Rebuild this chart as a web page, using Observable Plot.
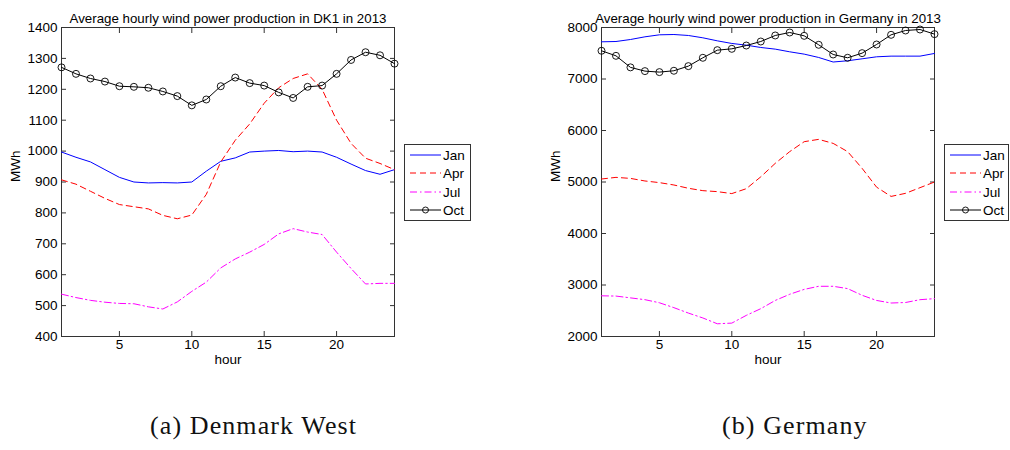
<!DOCTYPE html>
<html><head><meta charset="utf-8">
<script src="https://cdn.jsdelivr.net/npm/d3@7"></script>
<script src="https://cdn.jsdelivr.net/npm/@observablehq/plot@0.6"></script>
<style>
body{margin:0;background:#fff;}
#root{position:relative;width:1010px;height:450px;overflow:hidden;font-family:"Liberation Sans",Arial,sans-serif;}
.panel{position:absolute;top:0;}
.legend{position:absolute;}
.caption{position:absolute;top:411px;font-family:"Liberation Serif","Times New Roman",serif;font-size:26px;letter-spacing:1.1px;color:#111;white-space:nowrap;}
</style></head><body><div id="root"></div>
<script>
const hours = [1,2,3,4,5,6,7,8,9,10,11,12,13,14,15,16,17,18,19,20,21,22,23,24];
const months = ["Jan","Apr","Jul","Oct"];
const xTicks = [5,10,15,20];

// Denmark West (DK1), MWh
const dk1Jan = [997,980,965,940,915,900,897,898,897,900,935,967,978,997,1000,1002,998,1000,997,980,958,937,925,940];
const dk1Apr = [907,893,870,847,827,820,813,792,781,793,860,965,1035,1088,1155,1205,1235,1250,1200,1100,1025,977,960,940];
const dk1Jul = [537,526,517,511,507,506,496,489,512,546,576,622,651,673,698,732,749,738,730,673,620,570,572,572];
const dk1Oct = [1271,1250,1235,1225,1210,1208,1205,1193,1178,1148,1167,1210,1238,1220,1212,1190,1172,1208,1212,1250,1295,1320,1310,1283];
const dk1Ticks = [400,500,600,700,800,900,1000,1100,1200,1300,1400];

// Germany, MWh
const deJan = [7722,7728,7767,7819,7858,7864,7845,7800,7741,7690,7657,7612,7580,7528,7483,7418,7330,7354,7392,7431,7444,7444,7444,7496];
const deApr = [5058,5090,5070,5020,4988,4942,4878,4832,4813,4775,4870,5100,5362,5590,5783,5828,5750,5590,5265,4900,4720,4780,4890,5000];
const deJul = [2790,2785,2750,2715,2655,2560,2455,2360,2247,2260,2410,2540,2700,2820,2915,2975,2975,2930,2800,2700,2650,2660,2715,2735];
const deOct = [7548,7450,7226,7153,7134,7160,7250,7412,7560,7586,7650,7728,7845,7903,7838,7664,7476,7412,7502,7670,7858,7942,7961,7871];
const deTicks = [2000,3000,4000,5000,6000,7000,8000];

const styles = {
  Jan: {stroke:"#0000ff"},
  Apr: {stroke:"#ff0000", strokeDasharray:"6,4"},
  Jul: {stroke:"#ff00ff", strokeDasharray:"7,3,1.5,3"},
  Oct: {stroke:"#000000"}
};
const FONT = '"Liberation Sans",Arial,sans-serif';
const FS = 13.5;

function rowsOf(series){
  const rows = [];
  months.forEach((m,k)=>hours.forEach((h,i)=>rows.push({month:m, hour:h, value:series[k][i]})));
  return rows;
}

function chart(title, series, yTicks){
  const rows = rowsOf(series);
  const dom = [yTicks[0], yTicks[yTicks.length-1]];
  const fmt = d => String(d);
  const marks = [
    Plot.frame({stroke:"#333"}),
    Plot.axisX(xTicks, {anchor:"bottom", tickSize:0, tickPadding:3, label:null, tickFormat:fmt}),
    Plot.axisX(xTicks, {anchor:"bottom", tickSize:-5, tickFormat:()=>"", label:null, stroke:"#333"}),
    Plot.axisX(xTicks, {anchor:"top", tickSize:-5, tickFormat:()=>"", label:null, stroke:"#333"}),
    Plot.axisY(yTicks, {anchor:"left", tickSize:0, tickPadding:4, label:null, tickFormat:fmt}),
    Plot.axisY(yTicks, {anchor:"left", tickSize:-5, tickFormat:()=>"", label:null, stroke:"#333"}),
    Plot.axisY(yTicks, {anchor:"right", tickSize:-5, tickFormat:()=>"", label:null, stroke:"#333"}),
    Plot.text([title], {frameAnchor:"top", dy:-14, fontSize:13.3}),
    Plot.text(["hour"], {frameAnchor:"bottom", dy:27, fontSize:FS}),
    Plot.text(["MWh"], {frameAnchor:"left", dx:-46, rotate:-90, fontSize:FS})
  ];
  months.forEach(m=>{
    marks.push(Plot.line(rows.filter(d=>d.month===m), {x:"hour", y:"value", strokeWidth:1, ...styles[m]}));
  });
  marks.push(Plot.dot(rows.filter(d=>d.month==="Oct"), {x:"hour", y:"value", r:3.5, stroke:"#000", fill:"none", strokeWidth:0.9}));
  return Plot.plot({
    width:400, height:370,
    marginLeft:61, marginRight:6, marginTop:27, marginBottom:34,
    x:{domain:[1,24]},
    y:{domain:dom},
    style:{fontFamily:FONT, fontSize:FS+"px", color:"#000", background:"transparent", overflow:"visible"},
    marks
  });
}

function legend(left, top, w){
  const h = 77;
  const svg = d3.create("svg").attr("width", w+1).attr("height", h+1).attr("class","legend")
    .style("left", left+"px").style("top", top+"px").style("overflow","visible");
  svg.append("rect").attr("x",0.5).attr("y",0.5).attr("width",w).attr("height",h-1).attr("fill","#fff").attr("stroke","#333");
  const ys = [11,29,48,66];
  months.forEach((m,i)=>{
    const s = styles[m];
    const ln = svg.append("line").attr("x1",6).attr("x2",37).attr("y1",ys[i]).attr("y2",ys[i]).attr("stroke",s.stroke).attr("stroke-width",1);
    if (s.strokeDasharray) ln.attr("stroke-dasharray", s.strokeDasharray);
    if (m==="Oct") svg.append("circle").attr("cx",21.5).attr("cy",ys[i]).attr("r",3).attr("fill","none").attr("stroke","#000").attr("stroke-width",0.9);
    svg.append("text").attr("x",39).attr("y",ys[i]).attr("dy","0.36em").attr("font-size",FS+"px")
      .attr("font-family",FONT).text(m);
  });
  return svg.node();
}

const root = document.getElementById("root");
const p1 = chart("Average hourly wind power production in DK1 in 2013", [dk1Jan,dk1Apr,dk1Jul,dk1Oct], dk1Ticks);
p1.classList.add("panel"); p1.style.left = "0px"; p1.style.position="absolute";
root.appendChild(p1);
const p2 = chart("Average hourly wind power production in Germany in 2013", [deJan,deApr,deJul,deOct], deTicks);
p2.classList.add("panel"); p2.style.left = "540px"; p2.style.position="absolute";
root.appendChild(p2);
root.appendChild(legend(404,144,66));
root.appendChild(legend(944,144,64));

const c1 = document.createElement("div"); c1.className="caption"; c1.textContent="(a) Denmark West"; c1.style.left="150px";
const c2 = document.createElement("div"); c2.className="caption"; c2.textContent="(b) Germany"; c2.style.left="722px";
root.appendChild(c1); root.appendChild(c2);
</script></body></html>
